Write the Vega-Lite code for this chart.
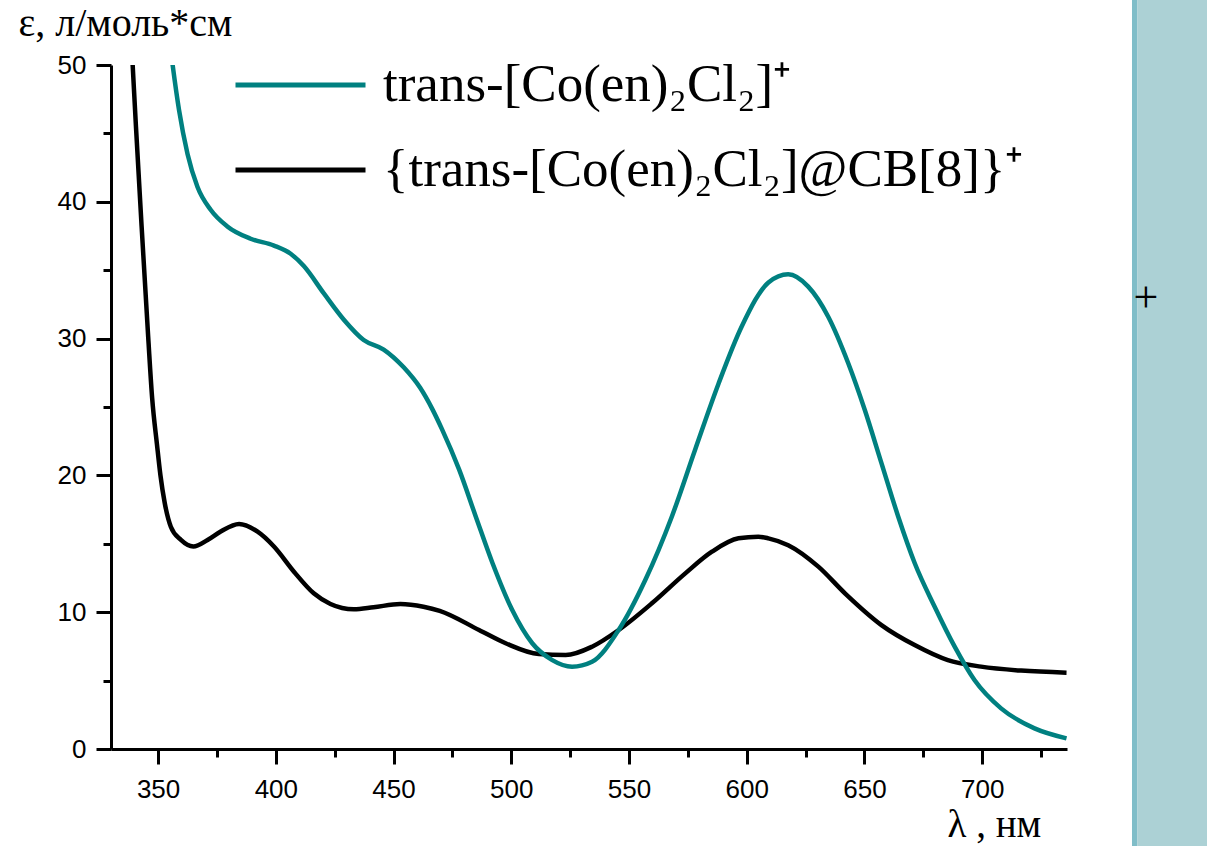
{
  "$schema": "https://vega.github.io/schema/vega-lite/v6.json",
  "autosize": {"type": "none"},
  "width": 956,
  "height": 684,
  "padding": {"left": 111, "top": 65, "right": 140, "bottom": 97},
  "background": "white",
  "config": {"view": {"stroke": null}},
  "datasets": {
    "spectra": [
      {"series": "{trans-[Co(en)₂Cl₂]@CB[8]}⁺", "wl": 337.0, "eps": 57.0},
      {"series": "{trans-[Co(en)₂Cl₂]@CB[8]}⁺", "wl": 339.2, "eps": 50.0},
      {"series": "{trans-[Co(en)₂Cl₂]@CB[8]}⁺", "wl": 340.6, "eps": 45.5},
      {"series": "{trans-[Co(en)₂Cl₂]@CB[8]}⁺", "wl": 343.0, "eps": 38.2},
      {"series": "{trans-[Co(en)₂Cl₂]@CB[8]}⁺", "wl": 345.8, "eps": 30.1},
      {"series": "{trans-[Co(en)₂Cl₂]@CB[8]}⁺", "wl": 347.5, "eps": 25.6},
      {"series": "{trans-[Co(en)₂Cl₂]@CB[8]}⁺", "wl": 349.5, "eps": 22.3},
      {"series": "{trans-[Co(en)₂Cl₂]@CB[8]}⁺", "wl": 351.0, "eps": 20.0},
      {"series": "{trans-[Co(en)₂Cl₂]@CB[8]}⁺", "wl": 352.8, "eps": 18.0},
      {"series": "{trans-[Co(en)₂Cl₂]@CB[8]}⁺", "wl": 355.4, "eps": 16.25},
      {"series": "{trans-[Co(en)₂Cl₂]@CB[8]}⁺", "wl": 359.7, "eps": 15.28},
      {"series": "{trans-[Co(en)₂Cl₂]@CB[8]}⁺", "wl": 365.0, "eps": 14.8},
      {"series": "{trans-[Co(en)₂Cl₂]@CB[8]}⁺", "wl": 371.0, "eps": 15.28},
      {"series": "{trans-[Co(en)₂Cl₂]@CB[8]}⁺", "wl": 376.6, "eps": 15.9},
      {"series": "{trans-[Co(en)₂Cl₂]@CB[8]}⁺", "wl": 384.4, "eps": 16.45},
      {"series": "{trans-[Co(en)₂Cl₂]@CB[8]}⁺", "wl": 392.1, "eps": 15.9},
      {"series": "{trans-[Co(en)₂Cl₂]@CB[8]}⁺", "wl": 399.2, "eps": 14.8},
      {"series": "{trans-[Co(en)₂Cl₂]@CB[8]}⁺", "wl": 407.7, "eps": 12.96},
      {"series": "{trans-[Co(en)₂Cl₂]@CB[8]}⁺", "wl": 416.1, "eps": 11.38},
      {"series": "{trans-[Co(en)₂Cl₂]@CB[8]}⁺", "wl": 423.2, "eps": 10.6},
      {"series": "{trans-[Co(en)₂Cl₂]@CB[8]}⁺", "wl": 433.1, "eps": 10.21},
      {"series": "{trans-[Co(en)₂Cl₂]@CB[8]}⁺", "wl": 441.5, "eps": 10.36},
      {"series": "{trans-[Co(en)₂Cl₂]@CB[8]}⁺", "wl": 452.9, "eps": 10.6},
      {"series": "{trans-[Co(en)₂Cl₂]@CB[8]}⁺", "wl": 462.7, "eps": 10.4},
      {"series": "{trans-[Co(en)₂Cl₂]@CB[8]}⁺", "wl": 469.6, "eps": 10.1},
      {"series": "{trans-[Co(en)₂Cl₂]@CB[8]}⁺", "wl": 486.3, "eps": 8.7},
      {"series": "{trans-[Co(en)₂Cl₂]@CB[8]}⁺", "wl": 497.6, "eps": 7.73},
      {"series": "{trans-[Co(en)₂Cl₂]@CB[8]}⁺", "wl": 511.7, "eps": 6.94},
      {"series": "{trans-[Co(en)₂Cl₂]@CB[8]}⁺", "wl": 523.1, "eps": 6.87},
      {"series": "{trans-[Co(en)₂Cl₂]@CB[8]}⁺", "wl": 534.3, "eps": 7.48},
      {"series": "{trans-[Co(en)₂Cl₂]@CB[8]}⁺", "wl": 545.6, "eps": 8.7},
      {"series": "{trans-[Co(en)₂Cl₂]@CB[8]}⁺", "wl": 559.7, "eps": 10.65},
      {"series": "{trans-[Co(en)₂Cl₂]@CB[8]}⁺", "wl": 573.9, "eps": 12.84},
      {"series": "{trans-[Co(en)₂Cl₂]@CB[8]}⁺", "wl": 585.2, "eps": 14.42},
      {"series": "{trans-[Co(en)₂Cl₂]@CB[8]}⁺", "wl": 596.5, "eps": 15.4},
      {"series": "{trans-[Co(en)₂Cl₂]@CB[8]}⁺", "wl": 604.9, "eps": 15.52},
      {"series": "{trans-[Co(en)₂Cl₂]@CB[8]}⁺", "wl": 609.2, "eps": 15.4},
      {"series": "{trans-[Co(en)₂Cl₂]@CB[8]}⁺", "wl": 617.6, "eps": 14.9},
      {"series": "{trans-[Co(en)₂Cl₂]@CB[8]}⁺", "wl": 630.4, "eps": 13.33},
      {"series": "{trans-[Co(en)₂Cl₂]@CB[8]}⁺", "wl": 641.7, "eps": 11.38},
      {"series": "{trans-[Co(en)₂Cl₂]@CB[8]}⁺", "wl": 657.2, "eps": 9.06},
      {"series": "{trans-[Co(en)₂Cl₂]@CB[8]}⁺", "wl": 671.3, "eps": 7.6},
      {"series": "{trans-[Co(en)₂Cl₂]@CB[8]}⁺", "wl": 685.4, "eps": 6.5},
      {"series": "{trans-[Co(en)₂Cl₂]@CB[8]}⁺", "wl": 699.5, "eps": 6.02},
      {"series": "{trans-[Co(en)₂Cl₂]@CB[8]}⁺", "wl": 716.5, "eps": 5.73},
      {"series": "{trans-[Co(en)₂Cl₂]@CB[8]}⁺", "wl": 735.8, "eps": 5.58},
      {"series": "trans-[Co(en)₂Cl₂]⁺", "wl": 354.0, "eps": 53.0},
      {"series": "trans-[Co(en)₂Cl₂]⁺", "wl": 356.1, "eps": 50.1},
      {"series": "trans-[Co(en)₂Cl₂]⁺", "wl": 358.9, "eps": 46.7},
      {"series": "trans-[Co(en)₂Cl₂]⁺", "wl": 362.5, "eps": 43.5},
      {"series": "trans-[Co(en)₂Cl₂]⁺", "wl": 366.7, "eps": 41.1},
      {"series": "trans-[Co(en)₂Cl₂]⁺", "wl": 372.4, "eps": 39.4},
      {"series": "trans-[Co(en)₂Cl₂]⁺", "wl": 379.4, "eps": 38.2},
      {"series": "trans-[Co(en)₂Cl₂]⁺", "wl": 389.3, "eps": 37.3},
      {"series": "trans-[Co(en)₂Cl₂]⁺", "wl": 399.2, "eps": 36.8},
      {"series": "trans-[Co(en)₂Cl₂]⁺", "wl": 406.3, "eps": 36.2},
      {"series": "trans-[Co(en)₂Cl₂]⁺", "wl": 411.9, "eps": 35.3},
      {"series": "trans-[Co(en)₂Cl₂]⁺", "wl": 420.4, "eps": 33.3},
      {"series": "trans-[Co(en)₂Cl₂]⁺", "wl": 428.8, "eps": 31.4},
      {"series": "trans-[Co(en)₂Cl₂]⁺", "wl": 437.3, "eps": 29.9},
      {"series": "trans-[Co(en)₂Cl₂]⁺", "wl": 445.8, "eps": 29.2},
      {"series": "trans-[Co(en)₂Cl₂]⁺", "wl": 454.3, "eps": 27.9},
      {"series": "trans-[Co(en)₂Cl₂]⁺", "wl": 461.3, "eps": 26.4},
      {"series": "trans-[Co(en)₂Cl₂]⁺", "wl": 466.3, "eps": 24.9},
      {"series": "trans-[Co(en)₂Cl₂]⁺", "wl": 470.5, "eps": 23.4},
      {"series": "trans-[Co(en)₂Cl₂]⁺", "wl": 477.9, "eps": 20.4},
      {"series": "trans-[Co(en)₂Cl₂]⁺", "wl": 484.9, "eps": 17.0},
      {"series": "trans-[Co(en)₂Cl₂]⁺", "wl": 492.0, "eps": 13.6},
      {"series": "trans-[Co(en)₂Cl₂]⁺", "wl": 500.4, "eps": 10.16},
      {"series": "trans-[Co(en)₂Cl₂]⁺", "wl": 508.9, "eps": 7.73},
      {"series": "trans-[Co(en)₂Cl₂]⁺", "wl": 517.4, "eps": 6.5},
      {"series": "trans-[Co(en)₂Cl₂]⁺", "wl": 525.8, "eps": 6.02},
      {"series": "trans-[Co(en)₂Cl₂]⁺", "wl": 534.3, "eps": 6.38},
      {"series": "trans-[Co(en)₂Cl₂]⁺", "wl": 545.6, "eps": 8.7},
      {"series": "trans-[Co(en)₂Cl₂]⁺", "wl": 556.9, "eps": 12.35},
      {"series": "trans-[Co(en)₂Cl₂]⁺", "wl": 568.2, "eps": 17.0},
      {"series": "trans-[Co(en)₂Cl₂]⁺", "wl": 578.1, "eps": 21.9},
      {"series": "trans-[Co(en)₂Cl₂]⁺", "wl": 588.0, "eps": 26.7},
      {"series": "trans-[Co(en)₂Cl₂]⁺", "wl": 597.9, "eps": 30.9},
      {"series": "trans-[Co(en)₂Cl₂]⁺", "wl": 609.2, "eps": 34.1},
      {"series": "trans-[Co(en)₂Cl₂]⁺", "wl": 617.6, "eps": 34.7},
      {"series": "trans-[Co(en)₂Cl₂]⁺", "wl": 626.1, "eps": 33.8},
      {"series": "trans-[Co(en)₂Cl₂]⁺", "wl": 634.6, "eps": 31.6},
      {"series": "trans-[Co(en)₂Cl₂]⁺", "wl": 643.1, "eps": 28.2},
      {"series": "trans-[Co(en)₂Cl₂]⁺", "wl": 650.1, "eps": 24.8},
      {"series": "trans-[Co(en)₂Cl₂]⁺", "wl": 657.2, "eps": 20.9},
      {"series": "trans-[Co(en)₂Cl₂]⁺", "wl": 664.3, "eps": 17.0},
      {"series": "trans-[Co(en)₂Cl₂]⁺", "wl": 671.3, "eps": 13.6},
      {"series": "trans-[Co(en)₂Cl₂]⁺", "wl": 679.8, "eps": 10.4},
      {"series": "trans-[Co(en)₂Cl₂]⁺", "wl": 688.3, "eps": 7.48},
      {"series": "trans-[Co(en)₂Cl₂]⁺", "wl": 696.7, "eps": 5.04},
      {"series": "trans-[Co(en)₂Cl₂]⁺", "wl": 708.0, "eps": 2.97},
      {"series": "trans-[Co(en)₂Cl₂]⁺", "wl": 722.2, "eps": 1.51},
      {"series": "trans-[Co(en)₂Cl₂]⁺", "wl": 735.8, "eps": 0.78}
    ]
  },
  "layer": [
    {
      "data": {"values": [{}]},
      "mark": {"type": "rect", "color": "#80bdc8", "clip": false},
      "encoding": {
        "x": {"datum": 763.6, "type": "quantitative", "scale": {"domain": [330, 736], "nice": false, "zero": false}},
        "x2": {"datum": 765.8},
        "y": {"datum": -10, "type": "quantitative", "scale": {"domain": [0, 50], "nice": false}},
        "y2": {"datum": 60}
      }
    },
    {
      "data": {"values": [{}]},
      "mark": {"type": "rect", "color": "#acd1d5", "clip": false},
      "encoding": {
        "x": {"datum": 765.8, "type": "quantitative", "scale": {"domain": [330, 736], "nice": false, "zero": false}},
        "x2": {"datum": 800},
        "y": {"datum": -10, "type": "quantitative", "scale": {"domain": [0, 50], "nice": false}},
        "y2": {"datum": 60}
      }
    },
    {
      "data": {"values": [{}]},
      "mark": {"type": "text", "text": "+", "font": "Liberation Serif", "fontSize": 44, "color": "black", "align": "center", "baseline": "middle", "clip": false},
      "encoding": {
        "x": {"datum": 769.5, "type": "quantitative", "scale": {"domain": [330, 736], "nice": false, "zero": false}},
        "y": {"datum": 32.9, "type": "quantitative", "scale": {"domain": [0, 50], "nice": false}}
      }
    },
    {
      "data": {"name": "spectra"},
      "mark": {"type": "line", "strokeWidth": 4.5, "clip": true, "interpolate": "monotone"},
      "encoding": {
        "x": {
          "field": "wl",
          "type": "quantitative",
          "scale": {"domain": [330, 736], "nice": false, "zero": false},
          "axis": {
            "values": [350, 375, 400, 425, 450, 475, 500, 525, 550, 575, 600, 625, 650, 675, 700, 725],
            "labelExpr": "datum.value % 50 === 0 ? datum.label : ''",
            "labelOverlap": false,
            "tickSize": {"condition": {"test": "datum.value % 50 === 0", "value": 15}, "value": 8},
            "tickWidth": 3,
            "tickColor": "black",
            "domainWidth": 3,
            "domainColor": "black",
            "grid": false,
            "labelFont": "Liberation Sans",
            "labelFontSize": 26,
            "labelColor": "black",
            "labelPadding": 12,
            "title": "λ , нм",
            "titleFont": "Liberation Serif",
            "titleFontSize": 39,
            "titleFontWeight": "normal",
            "titleColor": "black",
            "titleAngle": 0,
            "titleAlign": "left",
            "titleBaseline": "alphabetic",
            "titleAnchor": null,
            "titleX": 836,
            "titleY": 87
          }
        },
        "y": {
          "field": "eps",
          "type": "quantitative",
          "scale": {"domain": [0, 50], "nice": false},
          "axis": {
            "values": [0, 5, 10, 15, 20, 25, 30, 35, 40, 45, 50],
            "labelExpr": "datum.value % 10 === 0 ? datum.label : ''",
            "labelOverlap": false,
            "tickSize": {"condition": {"test": "datum.value % 10 === 0", "value": 15}, "value": 8},
            "tickWidth": 3,
            "tickColor": "black",
            "domainWidth": 3,
            "domainColor": "black",
            "grid": false,
            "labelFont": "Liberation Sans",
            "labelFontSize": 26,
            "labelColor": "black",
            "labelPadding": 10,
            "title": "ε, л/моль*см",
            "titleFont": "Liberation Serif",
            "titleFontSize": 40,
            "titleFontWeight": "normal",
            "titleColor": "black",
            "titleAngle": 0,
            "titleAlign": "left",
            "titleBaseline": "alphabetic",
            "titleAnchor": null,
            "titleX": -93,
            "titleY": -30
          }
        },
        "color": {
          "field": "series",
          "type": "nominal",
          "sort": null,
          "scale": {
            "domain": ["trans-[Co(en)₂Cl₂]⁺", "{trans-[Co(en)₂Cl₂]@CB[8]}⁺"],
            "range": ["#008080", "#000000"]
          },
          "legend": {
            "title": null,
            "orient": "none",
            "legendX": 122,
            "legendY": -17,
            "padding": 0,
            "clipHeight": 74,
            "symbolType": "stroke",
            "symbolSize": 16900,
            "symbolStrokeWidth": 5,
            "labelFont": "Liberation Serif",
            "labelFontSize": 53,
            "labelColor": "black",
            "labelOffset": 15,
            "labelLimit": 0,
            "rowPadding": 11
          }
        }
      }
    }
  ]
}
